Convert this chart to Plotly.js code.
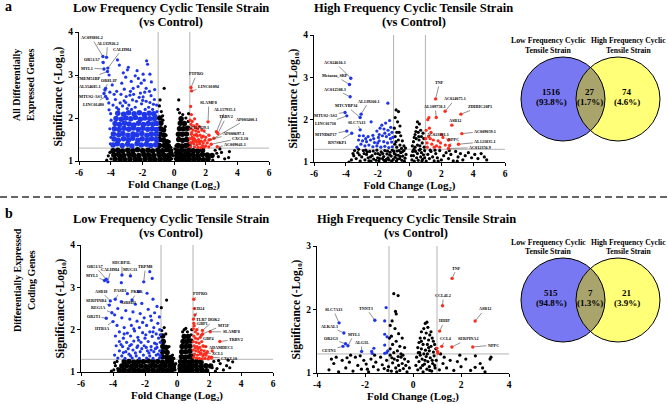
<!DOCTYPE html>
<html><head><meta charset="utf-8">
<script src="https://cdn.plot.ly/plotly-3.0.1.min.js"></script>
<style>html,body{margin:0;padding:0;background:#fff}#chart{width:668px;height:404px}</style>
</head><body><div id="chart"></div>
<script>
// ---------------- DATA ----------------
const xTicks6 = [-6,-4,-2,0,2,4,6];
const xTicks4 = [-4,-2,0,2,4];
const yTicks4 = [1,2,3,4];
const yTicks3 = [1,2,3];
const fcCut = [-1, 1];
const sigCut = 1.3;

const plotTitles = ['Low Frequency Cyclic Tensile Strain','High Frequency Cyclic Tensile Strain','Low Frequency Cyclic Tensile Strain','High Frequency Cyclic Tensile Strain'];
const plotSubtitle = '(vs Control)';
const xTitle = 'Fold Change (Log\u2082)';
const yTitle = 'Significance (-Log\u2081\u2080)';
const rowLabels = [['All Differentially','Expressed Genes'],['Differentially Expressed','Coding Genes']];
const panelLetters = ['a','b'];
const vennSets = [['Low Frequency Cyclic','Tensile Strain'],['High Frequency Cyclic','Tensile Strain']];
const vennCountsA = [1516, 27, 74];
const vennPctA = ['93.8%','1.7%','4.6%'];
const vennCountsB = [515, 7, 21];
const vennPctB = ['94.8%','1.3%','3.9%'];

// ---- Panel a, Low frequency (all genes) ----
const lowA_genes = ['AC093801.2','AL135926.2','CALHM4','OR51A7','MYL1','TMEM51BP','OR8L1P','AL354685.1','MTUS2-AS1','LINC01480','PTPRO','LINC01094','SLAMF8','AL157935.1','TRBV2','AP003400.1','AF117829.1','AP000697.1','CXCL10','AC009041.1'];
const lowA_geneFC = [-4.49,-4.26,-4.18,-4.47,-4.42,-4.20,-4.32,-4.36,-4.42,-4.32,1.07,1.11,2.15,2.68,2.77,2.52,2.21,2.21,2.35,2.73];
const lowA_geneSig = [3.43,3.41,3.16,3.29,3.14,3.08,2.69,2.65,2.57,2.50,2.71,2.63,1.91,1.68,1.64,1.53,1.60,1.49,1.39,1.33];
const lowA_downDense = [[-3.85,1.37],[-3.58,1.40],[-3.27,1.36],[-2.93,1.39],[-2.66,1.35],[-2.33,1.40],[-2.06,1.37],[-1.74,1.39],[-1.47,1.36],[-1.16,1.38],
[-3.78,1.51],[-3.52,1.48],[-3.19,1.52],[-2.88,1.49],[-2.61,1.53],[-2.28,1.48],[-2.01,1.52],[-1.69,1.49],[-1.41,1.52],[-1.12,1.50],
[-3.83,1.63],[-3.49,1.61],[-3.23,1.64],[-2.91,1.60],[-2.59,1.63],[-2.34,1.61],[-2.03,1.64],[-1.71,1.60],[-1.43,1.63],[-1.13,1.62],
[-3.76,1.75],[-3.47,1.73],[-3.16,1.76],[-2.86,1.74],[-2.57,1.77],[-2.26,1.73],[-1.97,1.76],[-1.66,1.74],[-1.37,1.75],[-1.11,1.73],
[-3.72,1.87],[-3.44,1.85],[-3.12,1.88],[-2.83,1.86],[-2.53,1.84],[-2.24,1.88],[-1.93,1.85],[-1.63,1.87],[-1.34,1.86],[-1.12,1.88],
[-3.66,1.99],[-3.33,1.97],[-3.04,2.00],[-2.73,1.98],[-2.44,2.01],[-2.13,1.97],[-1.84,2.00],[-1.53,1.98],[-1.24,1.99],
[-3.55,2.11],[-3.18,2.09],[-2.87,2.12],[-2.52,2.10],[-2.19,2.12],[-1.88,2.08],[-1.57,2.11],[-1.28,2.10]];
const lowA_down = [[-3.57,3.35],[-3.45,3.23],[-2.88,3.18],[-1.73,3.33],[-1.67,3.25],[-2.94,3.12],[-4.1,3.0],[-3.9,2.77],[-3.3,2.81],[-3.14,2.67],[-2.58,2.69],[-2.27,2.73],[-2.07,2.81],[-1.76,2.69],[-1.43,2.84],[-1.55,2.62],[-1.22,2.66],[-2.78,2.53],[-1.95,2.49],[-3.7,2.43],[-3.4,2.35],[-2.37,2.39],[-1.76,2.39],[-1.24,2.43],[-4.1,2.19],[-3.05,2.95],[-2.45,2.98],[-1.95,3.02],[-3.62,2.62],[-3.02,2.5],[-2.62,2.42],[-2.12,2.58],[-1.45,2.52],[-1.1,2.3],[-3.25,2.28],[-2.85,2.3],[-2.05,2.33],[-1.6,2.25],[-3.85,2.3],[-3.5,2.2],[-2.95,2.22],[-2.45,2.25],[-1.35,2.2],[-1.15,2.05],[-2.25,2.92],[-1.88,2.88],[-3.35,2.55],[-2.7,2.85],[-3.78,2.55],[-4.0,2.1],[-3.97,1.95],[-4.05,1.75],[-3.98,1.55],[-4.02,1.4],[-1.05,1.45],[-1.04,1.65],[-1.06,1.85],[-1.08,2.15],[-2.33,3.1],[-1.52,3.02],[-3.2,3.05],[-4.12,2.35],[-4.22,2.45],[-4.05,2.6],[-2.55,2.55],[-1.85,2.6],[-3.15,2.4],[-1.3,2.32],[-2.75,2.62],[-2.2,2.48],[-3.62,2.24],[-2.68,2.2],[-1.82,2.2],[-3.05,2.36],[-1.98,2.41],[-1.52,2.36]];
const lowA_nsDense = [[-3.72,1.04],[-3.40,1.05],[-3.10,1.03],[-2.78,1.05],[-2.45,1.04],[-2.15,1.03],[-1.82,1.05],[-1.50,1.04],[-1.20,1.03],[-0.88,1.05],[-0.58,1.04],[-0.30,1.05],
[-3.80,1.14],[-3.50,1.15],[-3.18,1.13],[-2.85,1.15],[-2.55,1.14],[-2.22,1.13],[-1.90,1.15],[-1.60,1.14],[-1.28,1.13],[-0.95,1.15],[-0.65,1.14],[-0.35,1.13],[-0.18,1.16],
[-3.85,1.24],[-3.55,1.25],[-3.25,1.23],[-2.92,1.25],[-2.60,1.24],[-2.30,1.26],[-1.98,1.24],[-1.65,1.25],[-1.35,1.23],[-1.02,1.25],[-0.72,1.24],[-0.45,1.26],[-0.22,1.24],
[-0.92,1.36],[-0.62,1.36],[-0.36,1.35],[-0.90,1.50],[-0.66,1.48],[-0.44,1.45],[-0.88,1.62],[-0.63,1.60],[-0.85,1.75],[-0.66,1.72],[-0.83,1.88],[-0.90,2.00],
[0.20,1.04],[0.45,1.05],[0.70,1.03],[0.95,1.05],[1.25,1.04],[1.55,1.05],[1.85,1.03],[2.15,1.05],
[0.18,1.14],[0.42,1.15],[0.68,1.13],[0.92,1.15],[1.20,1.14],[1.50,1.13],[1.80,1.15],[2.10,1.14],[2.40,1.13],
[0.22,1.24],[0.48,1.25],[0.72,1.23],[0.95,1.25],[1.22,1.24],[1.50,1.23],[1.80,1.25],
[0.25,1.36],[0.50,1.35],[0.75,1.36],[0.94,1.38],[0.30,1.50],[0.55,1.48],[0.80,1.50],[0.28,1.62],[0.52,1.62],[0.78,1.63],[0.35,1.75],[0.60,1.75],[0.85,1.76],[0.40,1.88],[0.65,1.87],[0.45,1.98]];
const lowA_ns = [[-0.62,2.69],[-0.88,2.42],[-0.92,2.28],[-0.8,2.15],[-0.72,2.05],[-0.5,1.6],[-0.3,1.45],[-0.2,1.32],[-4.15,1.12],[-4.05,1.2],[-3.98,1.05],[-4.25,1.02],[0.3,2.42],[0.25,2.2],[0.35,2.12],[0.55,2.08],[0.75,2.0],[0.9,1.92],[0.1,1.2],[0.08,1.05],[0.12,1.35],[0.92,2.1],[2.6,1.25],[2.8,1.1],[3.0,1.2],[3.2,1.05],[3.5,1.22],[3.45,1.08],[2.45,1.02],[2.7,1.18],[2.9,1.28],[-0.15,1.05],[-0.05,1.12],[0.05,1.28],[-0.55,1.8],[-0.7,1.95]];
const lowA_up = [[1.05,2.27],[1.1,2.08],[1.02,1.95],[1.15,1.92],[1.3,1.98],[1.08,1.85],[1.25,1.82],[1.45,1.85],[1.6,1.8],[1.05,1.75],[1.2,1.72],[1.38,1.7],[1.55,1.68],[1.75,1.72],[1.9,1.7],[1.1,1.62],[1.3,1.6],[1.48,1.58],[1.65,1.6],[1.85,1.58],[2.0,1.55],[1.02,1.52],[1.18,1.5],[1.35,1.48],[1.55,1.5],[1.72,1.46],[1.95,1.48],[2.1,1.42],[1.08,1.42],[1.25,1.4],[1.45,1.38],[1.62,1.4],[1.8,1.36],[2.0,1.35],[1.05,1.33],[1.3,1.33],[1.52,1.32],[1.7,1.31],[1.9,1.32],[2.2,1.33],[1.15,1.55],[1.42,1.62],[1.28,1.52],[1.6,1.45],[1.75,1.55],[1.12,1.66],[1.35,1.78],[1.5,1.75],[1.02,1.42],[1.22,1.45],[1.42,1.45],[2.3,1.5],[1.85,1.42]];

// ---- Panel a, High frequency (all genes) ----
const highA_genes = ['AC024616.1','Metazoa_SRP','AC012508.3','AL139260.1','MTCYBP34','MTUS2-AS2','LINC01710','SLC7A13','MTND6P17','RN7SKP1','TNF','AC024075.1','AL109758.1','ZDHHC20P1','ASB12','AC009059.1','AC023381.1','NPPC','AL121835.1','AC012356.9'];
const highA_geneFC = [-3.69,-3.77,-3.73,-3.04,-3.10,-4.05,-3.94,-3.10,-3.94,-3.63,1.64,2.24,1.68,3.23,2.66,3.29,2.45,2.52,3.08,2.45];
const highA_geneSig = [2.98,2.83,2.54,2.13,2.05,2.17,2.09,1.76,1.73,1.68,2.49,2.20,2.05,2.13,1.87,1.67,1.52,1.39,1.42,1.32];
const highA_down = [[-1.36,2.39],[-2.41,1.95],[-1.74,1.87],[-1.5,1.92],[-1.25,1.98],[-1.18,1.82],[-2.05,1.73],[-1.6,1.78],[-1.35,1.75],[-1.1,1.7],[-2.9,1.62],[-2.6,1.6],[-2.3,1.63],[-1.95,1.58],[-1.7,1.62],[-1.45,1.6],[-1.2,1.55],[-3.2,1.52],[-2.95,1.5],[-2.7,1.48],[-2.45,1.52],[-2.2,1.46],[-1.9,1.5],[-1.62,1.48],[-1.38,1.45],[-1.12,1.47],[-3.05,1.42],[-2.8,1.38],[-2.55,1.4],[-2.3,1.36],[-2.05,1.38],[-1.8,1.35],[-1.55,1.37],[-1.3,1.34],[-1.08,1.36],[-3.3,1.35],[-2.0,1.45],[-1.9,1.65],[-1.55,1.68],[-2.25,1.55],[-2.75,1.55],[-1.28,1.65],[-1.05,1.58],[-3.15,1.62],[-1.85,1.8]];
const highA_ns = [[-3.65,1.05],[-3.5,1.15],[-3.35,1.08],[-3.25,1.22],[-3.1,1.02],[-3.0,1.12],[-2.9,1.27],[-2.8,1.05],[-2.7,1.18],[-2.6,1.1],[-2.5,1.25],[-2.42,1.02],[-2.35,1.15],[-2.25,1.07],[-2.15,1.2],[-2.05,1.28],[-2.0,1.1],[-1.92,1.03],[-1.85,1.17],[-1.78,1.24],[-1.7,1.08],[-1.62,1.13],[-1.55,1.27],[-1.5,1.02],[-1.42,1.19],[-1.35,1.1],[-1.28,1.05],[-1.22,1.23],[-1.15,1.14],[-1.08,1.28],[-1.02,1.06],[-0.95,1.2],[-0.9,1.11],[-0.82,1.03],[-0.78,1.26],[-0.7,1.16],[-0.62,1.08],[-0.55,1.22],[-0.48,1.04],[-0.42,1.14],[-0.35,1.27],[-0.28,1.09],[-0.22,1.18],[-3.45,1.27],[-3.15,1.17],[-2.85,1.2],[-2.55,1.03],[-2.28,1.26],[-1.98,1.2],[-1.68,1.2],[-1.38,1.26],[-1.12,1.02],[-0.85,1.17],[-0.58,1.13],[-0.32,1.02],[-2.75,1.28],[-1.88,1.08],[-1.45,1.06],[-0.98,1.25],[-0.65,1.27],[-3.8,1.0],[-3.2,1.3],[-2.45,1.12],[-1.6,1.04],[-1.25,1.17],[-0.75,1.07],[-0.45,1.24],[-2.1,1.04],[-2.65,1.24],[-3.55,1.2],
[-0.84,2.23],[-0.69,2.19],[-0.9,2.05],[-0.75,1.95],[-0.6,1.85],[-0.95,1.8],[-0.8,1.7],[-0.55,1.62],[-0.9,1.6],[-0.7,1.52],[-0.45,1.5],[-0.92,1.42],[-0.6,1.4],[-0.35,1.38],[-0.8,1.35],[-0.25,1.33],[-0.5,1.32],[-0.65,1.7],[-0.85,1.48],
[0.15,1.05],[0.25,1.15],[0.3,1.02],[0.38,1.25],[0.45,1.1],[0.5,1.2],[0.55,1.04],[0.62,1.28],[0.7,1.12],[0.75,1.22],[0.82,1.06],[0.88,1.17],[0.95,1.27],[0.2,1.25],[0.35,1.35],[0.5,1.4],[0.65,1.38],[0.8,1.45],[0.92,1.35],[0.25,1.48],[0.42,1.55],[0.6,1.52],[0.75,1.6],[0.9,1.55],[0.35,1.65],[0.55,1.7],[0.7,1.75],[0.45,1.82],[0.62,1.9],[0.5,1.95],[0.18,1.38],[0.85,1.68],[0.3,1.58],[0.68,1.3],[0.4,1.72],[0.12,1.15],[0.28,1.3],[0.78,1.02],[0.58,1.6],[0.95,1.1],
[1.05,1.02],[1.15,1.18],[1.25,1.08],[1.35,1.25],[1.45,1.12],[1.55,1.03],[1.65,1.2],[1.75,1.1],[1.9,1.27],[2.0,1.05],[2.15,1.15],[2.3,1.22],[2.45,1.08],[2.6,1.18],[2.75,1.03],[2.9,1.25],[3.05,1.12],[3.2,1.2],[3.35,1.05],[3.5,1.15],[3.7,1.22],[3.9,1.1],[4.1,1.18],[4.3,1.08],[4.5,1.2],[4.7,1.12],[4.85,1.05],[1.3,1.28],[1.8,1.02],[2.5,1.27],[3.0,1.02],[1.6,1.28]];
const highA_up = [[1.1,1.45],[1.2,1.6],[1.3,1.55],[1.05,1.75],[1.25,1.8],[1.4,1.42],[1.55,1.35],[1.12,1.35],[1.35,1.7],[1.8,1.5],[1.95,1.45],[2.1,1.58],[1.7,1.38],[2.25,1.4],[1.5,1.52],[1.15,2.0],[1.9,1.35],[2.0,1.65],[1.22,2.05],[1.02,1.55]];

// ---- Panel b, Low frequency (coding genes) ----
const lowB_genes = ['OR51A7','CALHM4','MYL1','SHCBP1L','MUC13','TRPM8','ASB18','PASD1','PKLR','OR8H3','SERPINB4','REG1A','OR2T1','HTR3A','PTPRO','CD24','TLR7','GBP1','DOK2','MT1F','SLAMF8','GBP4','TRBV2','ADAMDEC1','XCL1','CXCL10'];
const lowB_geneFC = [-4.42,-4.32,-4.53,-3.44,-2.91,-2.08,-4.17,-3.86,-2.81,-3.48,-4.23,-4.07,-4.42,-4.00,1.05,1.03,1.07,1.24,1.59,1.60,2.08,1.53,2.68,1.66,1.80,2.16];
const lowB_geneSig = [3.19,3.13,3.16,3.29,3.27,3.13,2.68,2.72,2.70,2.66,2.58,2.40,2.27,2.19,2.72,2.25,2.09,2.00,1.98,1.90,1.95,1.87,1.72,1.61,1.44,1.35];
const lowB_down = [[-3.48,3.11],[-1.55,3.21],[-1.7,3.37],[-1.87,2.86],[-2.4,2.9],[-3.1,2.85],[-2.6,2.6],[-1.5,2.72],[-2.2,2.62],[-1.25,2.55],[-3.7,2.5],[-3.2,2.45],[-2.75,2.42],[-2.3,2.38],[-1.8,2.48],[-1.4,2.4],[-1.1,2.3],[-3.9,2.35],[-3.45,2.28],[-2.95,2.25],[-2.5,2.2],[-2.05,2.28],[-1.6,2.22],[-1.2,2.15],[-3.75,2.1],[-3.3,2.05],[-2.85,2.1],[-2.35,2.05],[-1.9,2.1],[-1.45,2.05],[-1.08,2.0],[-3.6,1.95],[-3.1,1.92],[-2.65,1.97],[-2.15,1.93],[-1.7,1.95],[-1.3,1.9],[-3.85,1.85],[-3.35,1.8],[-2.9,1.85],[-2.45,1.82],[-2.0,1.8],[-1.55,1.84],[-1.15,1.8],[-3.6,1.72],[-3.15,1.7],[-2.7,1.73],[-2.25,1.7],[-1.8,1.72],[-1.4,1.68],[-1.05,1.7],[-3.8,1.62],[-3.4,1.6],[-2.95,1.62],[-2.5,1.58],[-2.05,1.62],[-1.62,1.6],[-1.25,1.58],[-3.6,1.5],[-3.2,1.48],[-2.75,1.52],[-2.3,1.48],[-1.85,1.5],[-1.45,1.48],[-1.08,1.5],[-3.9,1.4],[-3.45,1.38],[-3.0,1.42],[-2.55,1.38],[-2.1,1.4],[-1.7,1.38],[-1.3,1.4],[-3.7,1.33],[-3.25,1.32],[-2.8,1.33],[-2.35,1.32],[-1.9,1.33],[-1.5,1.32],[-1.1,1.33],[-2.6,1.45],[-2.2,1.55],[-1.75,1.45],[-1.35,1.55],[-2.85,1.65],[-2.4,1.75],[-1.95,1.88],[-1.5,1.95],[-3.05,1.55],[-2.15,2.17],[-2.7,2.02],[-1.65,2.32],[-1.05,1.88],[-1.18,1.42],[-3.5,1.65],[-3.3,1.9],[-1.28,1.66],[-1.62,1.52],[-2.45,1.62],[-1.92,1.58],[-3.35,1.46],[-2.9,1.38],[-1.05,1.38]];
const lowB_nsDense = [[-3.60,1.04],[-3.30,1.05],[-3.00,1.03],[-2.70,1.05],[-2.40,1.04],[-2.10,1.03],[-1.80,1.05],[-1.50,1.04],[-1.20,1.03],[-0.90,1.05],[-0.60,1.04],[-0.32,1.05],
[-3.45,1.14],[-3.15,1.15],[-2.85,1.13],[-2.55,1.15],[-2.25,1.14],[-1.95,1.13],[-1.65,1.15],[-1.35,1.14],[-1.05,1.13],[-0.75,1.15],[-0.45,1.14],[-0.22,1.16],
[-3.30,1.24],[-3.00,1.25],[-2.70,1.23],[-2.40,1.25],[-2.10,1.24],[-1.80,1.26],[-1.50,1.24],[-1.20,1.25],[-0.90,1.23],[-0.60,1.25],[-0.35,1.24],
[-0.92,1.36],[-0.65,1.35],[-0.40,1.34],[-0.90,1.48],[-0.62,1.46],[-0.88,1.60],[-0.68,1.58],[-0.86,1.72],[-0.90,1.85],
[0.22,1.04],[0.48,1.05],[0.72,1.03],[0.95,1.05],[1.25,1.04],[1.55,1.05],[1.85,1.03],
[0.20,1.14],[0.45,1.15],[0.70,1.13],[0.93,1.15],[1.20,1.14],[1.50,1.13],[1.80,1.15],[2.10,1.14],
[0.24,1.24],[0.50,1.25],[0.74,1.23],[0.95,1.25],[1.22,1.24],[1.50,1.23],
[0.28,1.36],[0.52,1.35],[0.76,1.36],[0.94,1.37],[0.30,1.48],[0.55,1.48],[0.80,1.49],[0.32,1.60],[0.56,1.60],[0.80,1.61],[0.38,1.72],[0.62,1.72],[0.85,1.73],[0.45,1.84],[0.70,1.84]];
const lowB_ns = [[-0.65,2.7],[-0.98,2.52],[-0.8,2.05],[-0.95,1.98],[-0.7,1.9],[-0.5,1.6],[-0.28,1.4],[-0.2,1.32],[-3.95,1.05],[-3.85,1.15],[-3.75,1.25],[-3.9,1.22],[-3.7,1.08],[-4.1,1.02],[0.55,2.03],[0.35,1.95],[0.45,2.0],[0.65,1.95],[0.88,1.88],[0.15,1.25],[0.12,1.08],[0.92,2.0],[2.3,1.25],[2.5,1.08],[2.7,1.2],[2.9,1.05],[3.1,1.15],[3.3,1.1],[3.48,1.24],[3.2,1.28],[2.4,1.02],[2.2,1.1],[2.6,1.27],[-0.12,1.05],[-0.08,1.2],[-0.15,1.1]];
const lowB_up = [[1.05,1.85],[1.15,1.8],[1.3,1.78],[1.02,1.72],[1.2,1.7],[1.38,1.68],[1.55,1.72],[1.08,1.62],[1.25,1.6],[1.42,1.58],[1.62,1.62],[1.8,1.6],[1.02,1.52],[1.18,1.5],[1.35,1.48],[1.52,1.52],[1.7,1.5],[1.9,1.48],[1.1,1.42],[1.28,1.4],[1.45,1.42],[1.62,1.38],[1.82,1.4],[2.0,1.36],[1.05,1.35],[1.22,1.33],[1.4,1.32],[1.58,1.31],[1.75,1.32],[1.95,1.31],[2.15,1.33],[1.12,2.35],[1.08,2.5],[1.02,2.02],[1.15,1.95],[1.3,1.9],[1.45,1.82],[1.5,1.45],[1.32,1.55],[1.15,1.57],[1.68,1.42],[2.2,1.5],[1.05,2.15]];

// ---- Panel b, High frequency (coding genes) ----
const highB_genes = ['SLC7A13','ALKAL1','MYL1','OR2G3','CETN1','ALG1L','TNNT3','TNF','CCL4L2','ASB12','HHIP','CCL4','SERPINA2','NPPC'];
const highB_geneFC = [-3.08,-2.88,-2.71,-2.81,-2.92,-2.14,-1.59,1.63,1.23,2.59,1.11,1.20,1.62,2.49];
const highB_geneSig = [1.79,1.63,1.43,1.46,1.42,1.34,1.83,2.49,2.06,1.82,1.66,1.42,1.41,1.41];
const highB_down = [[-1.12,2.03],[-1.18,1.82],[-1.18,1.61],[-1.08,1.57],[-1.18,1.44],[-1.63,1.39],[-1.7,1.31],[-1.18,1.31],[-1.1,1.32],[-1.72,1.34],[-1.05,1.35]];
const highB_up = [[1.0,1.39],[1.04,1.31],[1.02,1.34]];
const highB_ns = [[-0.8,2.25],[-0.62,2.22],[-0.73,1.97],[-0.7,1.93],[-0.87,1.82],[-0.95,1.75],[-0.75,1.7],[-0.6,1.62],[-0.9,1.58],[-0.45,1.55],[-0.7,1.5],[-0.85,1.45],[-0.55,1.42],[-0.95,1.38],[-0.35,1.4],[-0.65,1.35],[-0.8,1.32],[-0.5,1.3],[-0.98,1.55],
[-3.5,1.05],[-3.3,1.15],[-3.1,1.02],[-2.95,1.2],[-2.8,1.08],[-2.65,1.17],[-2.5,1.03],[-2.4,1.25],[-2.3,1.12],[-2.15,1.06],[-2.05,1.2],[-1.95,1.14],[-1.85,1.02],[-1.75,1.22],[-1.65,1.1],[-1.55,1.17],[-1.45,1.05],[-1.35,1.25],[-1.28,1.13],[-1.2,1.07],[-1.1,1.2],[-1.02,1.1],[-0.95,1.28],[-0.9,1.03],[-0.85,1.16],[-0.78,1.22],[-0.72,1.08],[-0.65,1.2],[-0.6,1.12],[-0.55,1.04],[-0.5,1.25],[-0.45,1.15],[-0.4,1.07],[-0.35,1.22],[-0.3,1.12],[-0.25,1.02],[-0.2,1.18],[-0.15,1.08],[-3.2,1.25],[-2.6,1.28],[-2.2,1.27],[-1.6,1.28],[-0.88,1.24],[-0.68,1.02],[-0.42,1.28],[-1.9,1.06],[-2.75,1.24],[-3.4,1.22],[-1.05,1.04],[-0.62,1.26],
[0.58,1.8],[0.51,1.78],[0.45,1.7],[0.62,1.72],[0.35,1.65],[0.55,1.63],[0.7,1.6],[0.3,1.55],[0.48,1.55],[0.65,1.52],[0.8,1.55],[0.25,1.48],[0.42,1.45],[0.6,1.45],[0.75,1.42],[0.9,1.45],[0.2,1.4],[0.35,1.38],[0.52,1.36],[0.68,1.35],[0.85,1.33],[0.95,1.38],[0.28,1.32],[0.45,1.3],[0.15,1.25],[0.25,1.18],[0.32,1.08],[0.38,1.22],[0.42,1.02],[0.48,1.14],[0.55,1.26],[0.58,1.06],[0.62,1.18],[0.68,1.1],[0.72,1.24],[0.78,1.03],[0.82,1.15],[0.88,1.27],[0.92,1.08],[0.97,1.2],[0.2,1.05],[0.3,1.28],[0.4,1.12],[0.5,1.2],[0.6,1.3],[0.7,1.04],[0.8,1.2],[0.9,1.12],[0.35,1.5],[0.75,1.65],[0.12,1.12],[0.65,1.4],[0.22,1.32],[0.85,1.5],
[1.1,1.05],[1.25,1.15],[1.4,1.08],[1.55,1.2],[1.7,1.04],[1.85,1.18],[2.0,1.1],[2.2,1.22],[2.4,1.04],[2.59,1.09],[2.8,1.15],[3.0,1.02],[3.21,1.22],[3.25,1.25],[1.3,1.25],[1.95,1.28],[2.6,1.27],[1.15,1.3],[2.9,1.08]];

// ---------------- LAYOUT / DRAWING ----------------
const W = 668, H = 404;
const FONT = '"Liberation Serif", "Times New Roman", Times, "DejaVu Serif", serif';
const BLUE = '#1f36e8', RED = '#ff2b1c', BLACK = '#000000', GREY = '#b4b4b4';

// callout (label) positions, in data units, one per labelled gene
const lowA_callout = [[-5.21,3.87],[-4.2,3.74],[-3.28,3.6],[-5.21,3.37],[-5.5,3.16],[-5.42,2.92],[-4.13,2.88],[-5.3,2.73],[-5.25,2.51],[-5.1,2.32],[1.45,3.03],[2.2,2.74],[2.2,2.36],[3.24,2.19],[3.3,2.03],[4.59,1.97],[1.52,1.78],[3.76,1.64],[4.18,1.53],[3.87,1.39]];
const highA_callout = [[-4.67,3.35],[-4.67,3.04],[-4.67,2.72],[-2.55,2.44],[-3.98,2.33],[-5.25,2.11],[-5.25,1.91],[-3.31,1.94],[-5.25,1.64],[-4.57,1.46],[1.89,2.88],[2.87,2.49],[1.61,2.31],[4.44,2.31],[2.87,1.97],[4.76,1.73],[1.82,1.65],[2.77,1.54],[4.76,1.48],[4.44,1.34]];
const lowB_callout = [[-5.12,3.5],[-4.13,3.43],[-5.32,3.29],[-3.44,3.58],[-2.91,3.43],[-1.97,3.49],[-4.76,2.91],[-3.54,2.92],[-2.49,2.9],[-3.02,2.64],[-5.01,2.7],[-4.91,2.53],[-5.22,2.32],[-4.7,2.02],[1.49,2.86],[1.38,2.5],[1.55,2.23],[1.59,2.15],[2.33,2.23],[2.91,2.11],[3.38,1.95],[2.01,1.78],[3.69,1.77],[2.75,1.57],[2.54,1.43],[3.27,1.32]];
const highB_callout = [[-3.33,2.0],[-3.5,1.74],[-2.46,1.61],[-3.43,1.54],[-3.5,1.36],[-2.14,1.48],[-1.95,2.02],[1.83,2.65],[1.27,2.22],[3.0,2.01],[1.31,1.82],[1.37,1.54],[2.31,1.54],[3.35,1.44]];

const panels = [
  {xdom:[79,269], ydom:[161,32], xr:[-6,6], yr:[1,4], xt:xTicks6, yt:yTicks4, tx:171, ty:15,
   nsDense:lowA_nsDense, ns:lowA_ns, downDense:lowA_downDense, down:lowA_down, up:lowA_up,
   genes:lowA_genes, fc:lowA_geneFC, sig:lowA_geneSig, callout:lowA_callout},
  {xdom:[314,505], ydom:[162,35], xr:[-6,6], yr:[1,4], xt:xTicks6, yt:yTicks4, tx:414, ty:14.5,
   nsDense:[], ns:highA_ns, downDense:[], down:highA_down, up:highA_up,
   genes:highA_genes, fc:highA_geneFC, sig:highA_geneSig, callout:highA_callout},
  {xdom:[81,273], ydom:[372,245], xr:[-6,6], yr:[1,4], xt:xTicks6, yt:yTicks4, tx:171, ty:226,
   nsDense:lowB_nsDense, ns:lowB_ns, downDense:[], down:lowB_down, up:lowB_up,
   genes:lowB_genes, fc:lowB_geneFC, sig:lowB_geneSig, callout:lowB_callout},
  {xdom:[317,509], ydom:[373,246], xr:[-4,4], yr:[1,3], xt:xTicks4, yt:yTicks3, tx:416, ty:226,
   nsDense:[], ns:highB_ns, downDense:[], down:highB_down, up:highB_up,
   genes:highB_genes, fc:highB_geneFC, sig:highB_geneSig, callout:highB_callout}
];

const layout = {
  width: W, height: H, margin: {l:0, r:0, t:0, b:0},
  paper_bgcolor: '#fff', plot_bgcolor: '#fff', showlegend: false,
  font: {family: FONT, color: '#000'},
  shapes: [], annotations: []
};
const traces = [];
const px = (x) => x / W;
const py = (y) => 1 - y / H;
function label(x, y, text, size, extra) {
  layout.annotations.push(Object.assign({xref: 'paper', yref: 'paper', x: px(x), y: py(y),
    xanchor: 'center', yanchor: 'middle', showarrow: false, text: '<b>' + text + '</b>',
    font: {family: FONT, size: size, color: '#000'}}, extra || {}));
}

const axisStyle = {
  showgrid: false, zeroline: false, showline: true, linecolor: '#000', linewidth: 1,
  ticks: 'outside', ticklen: 3, tickwidth: 1, tickcolor: '#000', fixedrange: true,
  tickfont: {family: FONT, size: 9.5, color: '#000', weight: 'bold'}
};

panels.forEach((p, i) => {
  const n = i === 0 ? '' : String(i + 1);
  const xid = 'x' + n, yid = 'y' + n;
  layout['xaxis' + n] = Object.assign({}, axisStyle, {
    domain: [px(p.xdom[0]), px(p.xdom[1])], range: p.xr, anchor: yid,
    tickmode: 'array', tickvals: p.xt, ticktext: p.xt.map(String),
    title: {text: xTitle, font: {family: FONT, size: 11, color: '#000', weight: 'bold'}, standoff: 1}
  });
  layout['yaxis' + n] = Object.assign({}, axisStyle, {
    domain: [py(p.ydom[0]), py(p.ydom[1])], range: p.yr, anchor: xid,
    tickmode: 'array', tickvals: p.yt, ticktext: p.yt.map(String),
    title: {text: yTitle, font: {family: FONT, size: 11.5, color: '#000', weight: 'bold'}, standoff: 3}
  });
  fcCut.forEach(v => layout.shapes.push({type: 'line', layer: 'below', xref: xid, yref: yid + ' domain',
    x0: v, x1: v, y0: 0, y1: 1, line: {color: GREY, width: 1}}));
  layout.shapes.push({type: 'line', layer: 'below', xref: xid + ' domain', yref: yid,
    x0: 0, x1: 1, y0: sigCut, y1: sigCut, line: {color: GREY, width: 1}});

  const add = (arr, color, size) => {
    if (!arr.length) return;
    traces.push({type: 'scatter', mode: 'markers', x: arr.map(d => d[0]), y: arr.map(d => d[1]),
      xaxis: xid, yaxis: yid, hoverinfo: 'skip', marker: {color: color, size: size, line: {width: 0}}});
  };
  add(p.nsDense, BLACK, 5.5);
  add(p.ns, BLACK, 3.2);
  add(p.downDense, BLUE, 5.5);
  add(p.down, BLUE, 3.2);
  add(p.up, RED, 3.2);
  traces.push({type: 'scatter', mode: 'markers', x: p.fc, y: p.sig, xaxis: xid, yaxis: yid,
    text: p.genes, hoverinfo: 'text',
    marker: {color: p.fc.map(v => v < 0 ? BLUE : RED), size: 3.4, line: {width: 0}}});
  p.genes.forEach((g, k) => layout.annotations.push({
    xref: xid, yref: yid, axref: xid, ayref: yid,
    x: p.fc[k], y: p.sig[k], ax: p.callout[k][0], ay: p.callout[k][1],
    text: '<b>' + g + '</b>', showarrow: true, arrowhead: 0, arrowwidth: 0.6, arrowcolor: '#444',
    standoff: 1.5, font: {family: FONT, size: 4.2, color: '#000'}
  }));
  // panel title (two lines)
  label(p.tx, p.ty - 7, plotTitles[i], 12.5);
  label(p.tx, p.ty + 7, plotSubtitle, 12.5);
});

// row labels (rotated, two lines each) & panel letters
[[85, rowLabels[0]], [280, rowLabels[1]]].forEach(([cy, lines]) => {
  label(17, cy, lines[0], 10, {textangle: -90});
  label(31, cy, lines[1], 10, {textangle: -90});
});
label(8, 6, panelLetters[0], 14);
label(9, 213, panelLetters[1], 14);

// dashed separator
layout.shapes.push({type: 'line', xref: 'paper', yref: 'paper', x0: 0, x1: 1, y0: py(197), y1: py(197),
  line: {color: '#333', width: 1.5, dash: '7px,4px'}});

// Venn diagrams
const R = 42, C1 = 563, C2 = 618;
const toP = (pt) => px(pt[0]).toFixed(5) + ',' + py(pt[1]).toFixed(5);
function arcSeg(cx, cy, r, a0, a1) {
  const k = 4 / 3 * Math.tan((a1 - a0) / 4);
  const p1 = [cx + r * Math.cos(a1), cy + r * Math.sin(a1)];
  const p0 = [cx + r * Math.cos(a0), cy + r * Math.sin(a0)];
  const c0 = [p0[0] - k * r * Math.sin(a0), p0[1] + k * r * Math.cos(a0)];
  const c1 = [p1[0] + k * r * Math.sin(a1), p1[1] - k * r * Math.cos(a1)];
  return ' C' + [c0, c1, p1].map(toP).join(' ');
}
function venn(cy, counts, pcts) {
  const circ = (cx, fill, line) => ({type: 'circle', xref: 'paper', yref: 'paper',
    x0: px(cx - R), x1: px(cx + R), y0: py(cy + R), y1: py(cy - R), fillcolor: fill, line: line});
  layout.shapes.push(circ(C1, '#7878f2', {width: 0}));
  layout.shapes.push(circ(C2, '#ffff78', {width: 0}));
  const a = Math.acos((C2 - C1) / 2 / R);
  const top = [C1 + R * Math.cos(-a), cy + R * Math.sin(-a)];
  const path = 'M' + toP(top) + arcSeg(C1, cy, R, -a, 0) + arcSeg(C1, cy, R, 0, a) +
    arcSeg(C2, cy, R, Math.PI - a, Math.PI) + arcSeg(C2, cy, R, Math.PI, Math.PI + a) + ' Z';
  layout.shapes.push({type: 'path', xref: 'paper', yref: 'paper', path: path, fillcolor: '#a9a46c', line: {width: 0}});
  layout.shapes.push(circ(C1, 'rgba(0,0,0,0)', {color: '#000', width: 1}));
  layout.shapes.push(circ(C2, 'rgba(0,0,0,0)', {color: '#000', width: 1}));
  [[548, 7.8], [628, 7.6]].forEach(([x, fs], s) => {
    label(x, cy - 58, vennSets[s][0], fs);
    label(x, cy - 49, vennSets[s][1], fs);
  });
  [551, 590, 627].forEach((x, k) => {
    label(x, cy - 7, String(counts[k]), 9);
    label(x, cy + 3, '(' + pcts[k] + ')', 9);
  });
}
venn(99, vennCountsA, vennPctA);
venn(300, vennCountsB, vennPctB);

Plotly.newPlot('chart', traces, layout, {staticPlot: true, displayModeBar: false});
</script></body></html>
